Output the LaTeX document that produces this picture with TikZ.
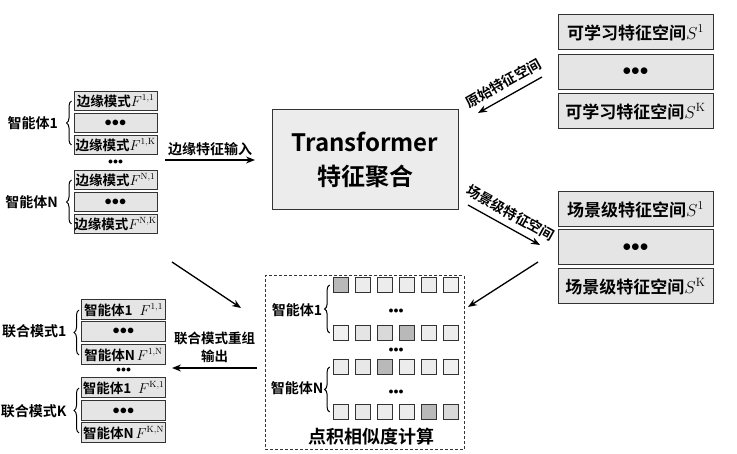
\documentclass[tikz,border=0pt]{standalone}
\usepackage[no-math]{fontspec}
\setmainfont{Noto Sans CJK SC}[BoldFont={Noto Sans CJK SC Bold}]
\usetikzlibrary{arrows.meta, positioning, decorations.pathreplacing}
\newcommand{\tdots}{${\bullet}{\bullet}{\bullet}$}

\begin{document}
\begin{tikzpicture}[x=1pt, y=-1pt,
    edgebox/.style={draw=black!80, line width=1pt, fill=gray!20, minimum width=83pt, minimum height=19pt, inner sep=0pt, font=\bfseries\fontsize{13.5}{13.5}\selectfont},
    spacebox/.style={draw=black!80, line width=1pt, fill=gray!20, minimum width=155pt, minimum height=35pt, inner sep=0pt, font=\bfseries\fontsize{17}{17}\selectfont},
    cell/.style={draw=black!80, line width=1.3pt, minimum size=15.5pt, inner sep=0pt},
    lab/.style={font=\bfseries\fontsize{14}{18}\selectfont},
    dotsn/.style={font=\fontsize{10}{10}\selectfont, inner sep=0pt},
    brc/.style={decorate, decoration={brace, amplitude=5pt}, line width=1pt},
    arr/.style={-{Stealth[length=9pt, width=7pt]}, line width=1.3pt}]

            \useasboundingbox (0,0) rectangle (737,454);

            % edge patterns of the agents
            \node[edgebox] (e11) at (115.5,101) {边缘模式$F^{\mathrm{1,1}}$};
            \node[edgebox] (e12) at (115.5,123) {\tdots};
            \node[edgebox] (e1k) at (115.5,145) {边缘模式$F^{\mathrm{1,K}}$};
            \node[dotsn] (ed) at (115.5,162) {\tdots};
            \node[edgebox] (en1) at (115.5,180) {边缘模式$F^{\mathrm{N,1}}$};
            \node[edgebox] (en2) at (115.5,202) {\tdots};
            \node[edgebox] (enk) at (115.5,224) {边缘模式$F^{\mathrm{N,K}}$};
            \node[lab, left=12pt of e12] (ag1) {智能体1};
            \node[lab, left=12pt of en2] (agn) {智能体N};
            \draw[brc] ([xshift=-2pt]e1k.west) -- ([xshift=-2pt]e11.west);
            \draw[brc] ([xshift=-2pt]enk.west) -- ([xshift=-2pt]en1.west);

            % transformer
            \node[draw=black!80, line width=1pt, fill=gray!15, minimum width=186pt, minimum height=100pt, align=center, font=\bfseries\fontsize{24}{34}\selectfont] (trans) at (365,160) {Transformer\\特征聚合};

            % learnable and scene-level spaces
            \node[spacebox] (s1) at (635.5,32.5) {可学习特征空间$S^{\mathrm{1}}$};
            \node[spacebox] (s2) at (635.5,72) {\tdots};
            \node[spacebox] (sk) at (635.5,111.5) {可学习特征空间$S^{\mathrm{K}}$};
            \node[spacebox] (c1) at (635.5,209.5) {场景级特征空间$S^{\mathrm{1}}$};
            \node[spacebox] (c2) at (635.5,247.5) {\tdots};
            \node[spacebox] (ck) at (635.5,286.5) {场景级特征空间$S^{\mathrm{K}}$};

            % dot product similarity
            \node[draw=black!80, dash pattern=on 3pt off 2pt, line width=1pt, minimum width=199pt, minimum height=174pt] (dot) at (364.5,363) {};
            \node[font=\bfseries\fontsize{18}{18}\selectfont] (cap) at (371,437) {点积相似度计算};
            \foreach \yy/\row [count=\r] in {285/{55,15,15,15,15,12}, 333/{12,20,30,55,15,15}, 367/{15,18,55,15,15,12}, 412/{15,18,15,15,55,30}} {
                \foreach \g [count=\c] in \row {
                    \node[cell, fill=gray!\g] (q\r\c) at ({319+22*\c},\yy) {};
                }
            }
            \node[dotsn] (qd1) at (396,311) {\tdots};
            \node[dotsn] (qd2) at (396,350) {\tdots};
            \node[dotsn] (qd3) at (396,392) {\tdots};
            \node[lab] (qa1) at (297,310) {智能体1};
            \node[lab] (qan) at (297,388) {智能体N};
            \draw[brc] ([xshift=-3pt]q21.west) -- ([xshift=-3pt]q11.west);
            \draw[brc] ([xshift=-3pt]q41.west) -- ([xshift=-3pt]q31.west);

            % joint patterns
            \node[edgebox, minimum width=84pt, minimum height=20pt] (j11) at (123.5,310) {智能体1\hspace{7pt}$F^{\mathrm{1,1}}$};
            \node[edgebox, minimum width=84pt, minimum height=20pt] (j12) at (123.5,331.5) {\tdots};
            \node[edgebox, minimum width=84pt, minimum height=20pt] (j1n) at (123.5,355) {智能体N\hspace{2pt}$F^{\mathrm{1,N}}$};
            \node[dotsn] (jd) at (123.5,370) {\tdots};
            \node[edgebox, minimum width=84pt, minimum height=20pt] (jk1) at (123.5,388) {智能体1\hspace{7pt}$F^{\mathrm{K,1}}$};
            \node[edgebox, minimum width=84pt, minimum height=20pt] (jk2) at (123.5,411) {\tdots};
            \node[edgebox, minimum width=84pt, minimum height=20pt] (jkn) at (123.5,433) {智能体N\hspace{2pt}$F^{\mathrm{K,N}}$};
            \node[lab, left=11pt of j12] (jm1) {联合模式1};
            \node[lab, left=11pt of jk2] (jmk) {联合模式K};
            \draw[brc] ([xshift=-2pt]j1n.west) -- ([xshift=-2pt]j11.west);
            \draw[brc] ([xshift=-2pt]jkn.west) -- ([xshift=-2pt]jk1.west);

            % arrows
            \coordinate (inS) at (165,160);
            \coordinate (inE) at (255,160);
            \draw[arr] (inS) -- node[midway, above, lab] {边缘特征输入} (inE);
            \coordinate (oS) at (542,77);
            \coordinate (oE) at (478,113);
            \draw[arr] (oS) -- node[midway, sloped, above=3pt, lab] {原始特征空间} (oE);
            \coordinate (cS) at (468,205);
            \coordinate (cE) at (540,245);
            \draw[arr] (cS) -- node[midway, sloped, above=3pt, lab] {场景级特征空间} (cE);
            \coordinate (aS) at (172,262);
            \coordinate (aE) at (241,308);
            \draw[arr] (aS) -- (aE);
            \coordinate (bS) at (538,262);
            \coordinate (bE) at (468,307);
            \draw[arr] (bS) -- (bE);
            \coordinate (rS) at (257,368);
            \coordinate (rE) at (172,368);
            \draw[arr] (rS) -- node[midway, above=1pt, align=center, lab, font=\bfseries\fontsize{13.5}{18}\selectfont] {联合模式重组\\输出} (rE);

        \end{tikzpicture}
\end{document}
